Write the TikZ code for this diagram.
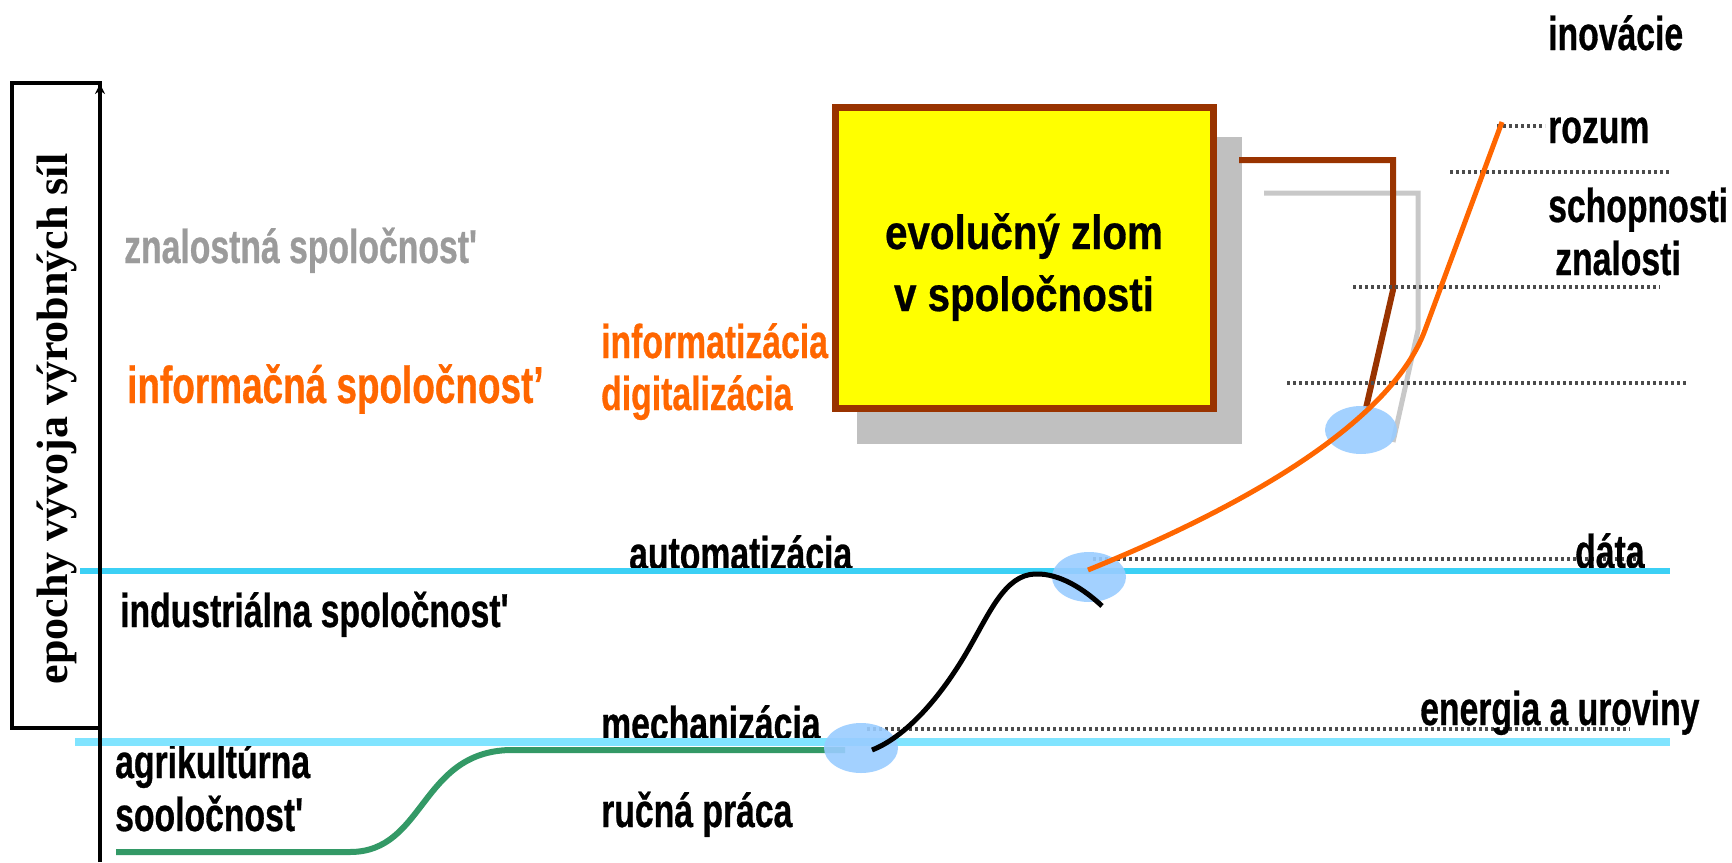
\documentclass[tikz,border=0pt]{standalone}
\usepackage{fontspec}
\usetikzlibrary{arrows.meta,shapes.geometric}
\newfontfamily\labfont[FakeStretch=0.71,FakeBold=0.6]{Liberation Sans}
\newfontfamily\boxfont[FakeStretch=0.84,FakeBold=0.6]{Liberation Sans}
\newfontfamily\vfont{Liberation Serif}
\definecolor{cyanA}{RGB}{60,208,245}
\definecolor{cyanB}{RGB}{128,228,255}
\definecolor{orng}{RGB}{255,102,0}
\definecolor{brwn}{RGB}{153,51,0}
\definecolor{ylw}{RGB}{255,255,0}
\definecolor{shd}{RGB}{192,192,192}
\definecolor{lgray}{RGB}{200,200,200}
\definecolor{ellb}{RGB}{153,204,255}
\definecolor{grn}{RGB}{51,153,102}
\definecolor{gtext}{RGB}{155,155,155}
\definecolor{dotc}{RGB}{75,75,75}
\begin{document}
\begin{tikzpicture}[x=1pt,y=-1pt,
  lab/.style={font=\labfont\bfseries\fontsize{47.5}{50}\selectfont, inner sep=0pt, anchor=base west},
  biglab/.style={font=\labfont\bfseries\fontsize{52}{55}\selectfont, inner sep=0pt, anchor=base west},
  boxtxt/.style={font=\boxfont\bfseries\fontsize{48}{50}\selectfont, inner sep=0pt, anchor=base},
  dotline/.style={dotc, line width=4pt, dash pattern=on 3pt off 3pt},
  blob/.style={ellipse, fill=ellb, opacity=0.9, inner sep=0pt, minimum width=74pt, minimum height=50pt},
  conn/.style={line width=6pt, line join=miter}
]
\useasboundingbox (0,0) rectangle (1732,862);

% shadow and yellow box
\fill[shd] (857,137) rectangle (1242,444);
\node[draw=brwn, fill=ylw, line width=7pt, minimum width=378pt, minimum height=301pt, inner sep=0pt] (zlom) at (1024.5,258) {};
\node[boxtxt] (zlom1) at (1024,249) {evolučný zlom};
\node[boxtxt] (zlom2) at (1024,311) {v spoločnosti};

% connectors from the box
\draw[conn, lgray, line width=5pt] (1264,193) -- (1418,193) -- (1418,330) -- (1393,442);
\draw[conn, brwn] (1239,160) -- (1393,160) -- (1393,290) -- (1366,408);

% dotted level lines
\draw[dotline] (1497,126) -- (1545,126);
\draw[dotline] (1450,172) -- (1670,172);
\draw[dotline] (1353,287) -- (1660,287);
\draw[dotline] (1287,383) -- (1687,383);
\draw[dotline] (1093,559) -- (1640,559);
\draw[dotline] (867,729) -- (1630,729);

% right labels
\node[lab] (inov) at (1548,50) {inovácie};
\node[lab] (rozum) at (1548,143) {rozum};
\node[lab] (schop) at (1548,222) {schopnosti};
\node[lab] (znal) at (1555,275) {znalosti};
\node[lab] (data) at (1575,568) {dáta};
\node[lab] (energ) at (1420,725) {energia a uroviny};

% middle labels
\node[lab] (autom) at (629,570) {automatizácia};
\node[lab] (mech) at (601,740) {mechanizácia};
\node[lab] (rucna) at (601,827) {ručná práca};
\node[lab, orng] (infz) at (601,358) {informatizácia};
\node[lab, orng] (digz) at (601,410) {digitalizácia};

% left labels
\node[lab, gtext] (znsp) at (124,263) {znalostná spoločnost'};
\node[biglab, orng] (insp) at (127,403) {informačná spoločnost’};
\node[lab] (insd) at (120,627) {industriálna spoločnost'};
\node[lab] (agr1) at (115,778) {agrikultúrna};
\node[lab] (agr2) at (115,831) {sooločnost'};

% cyan epoch lines
\coordinate (cA1) at (80,571);
\coordinate (cA2) at (1670,571);
\coordinate (cB1) at (75,742);
\coordinate (cB2) at (1670,742);
\draw[cyanA, line width=5.5pt] (cA1) -- (cA2);
\draw[cyanB, line width=8pt] (cB1) -- (cB2);

% green curve
\coordinate (g0) at (116,852);
\coordinate (g1) at (350,852);
\coordinate (g2) at (510,750);
\coordinate (g3) at (845,750);
\draw[grn, line width=6pt] (g0) -- (g1) .. controls (425,852) and (420,752) .. (g2) -- (g3);

% transition blobs
\node[blob] (e1) at (861,748) {};
\node[blob] (e2) at (1089,577) {};
\node[blob, minimum width=72pt, minimum height=48pt] (e3) at (1361,430) {};

% black curve
\coordinate (b0) at (872,750);
\coordinate (b1) at (968,650);
\coordinate (b2) at (1035,574);
\coordinate (b3) at (1102,606);
\draw[line width=5pt] (b0) .. controls (910,735) and (945,690) .. (b1)
  .. controls (990,612) and (1005,575) .. (b2)
  .. controls (1060,573) and (1085,590) .. (b3);

% orange curve
\coordinate (o0) at (1088,570);
\coordinate (o1) at (1425,330);
\coordinate (o2) at (1502,122);
\draw[orng, line width=5pt] (o0) .. controls (1260,500) and (1393,417) .. (o1) -- (o2);

% vertical axis box
\node[draw, line width=4.5pt, minimum width=88pt, minimum height=645pt, inner sep=0pt] (ybox) at (56,405.5) {};
\draw[line width=4.5pt, -{Stealth[length=10pt,width=10pt]}] (100,862) -- (100,84);
\node[font=\vfont\bfseries\fontsize{44}{46}\selectfont, rotate=90, anchor=base, inner sep=0pt] (ytxt) at (67,419) {epochy vývoja výrobných síl};
\end{tikzpicture}
\end{document}
